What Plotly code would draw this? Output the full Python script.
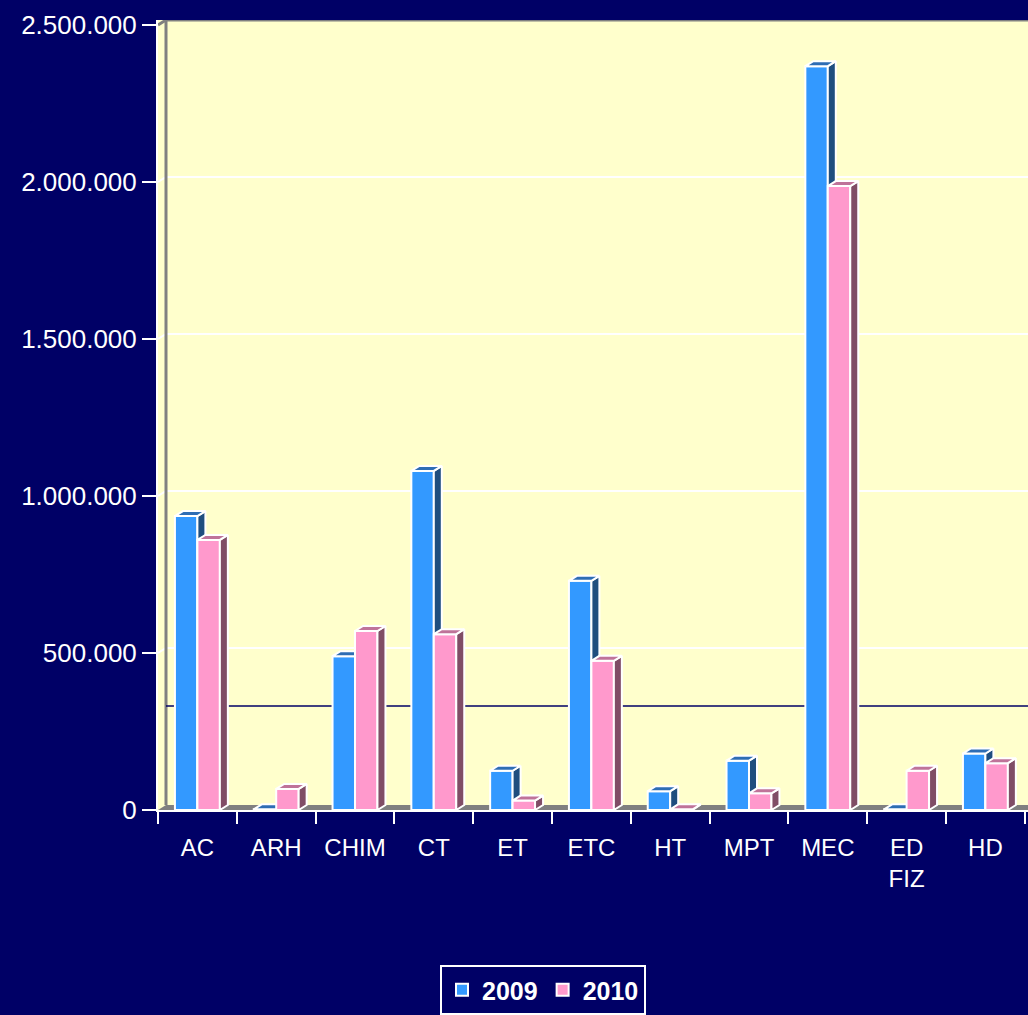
import plotly.graph_objects as go

# ---------------- data ----------------
categories = ["AC", "ARH", "CHIM", "CT", "ET", "ETC", "HT", "MPT", "MEC", "ED<br>FIZ", "HD"]
series_names = ["2009", "2010"]
values_2009 = [936000, 2000, 490000, 1080000, 125000, 730000, 60000, 157000, 2369000, 2000, 180000]
values_2010 = [860000, 67000, 570000, 560000, 30000, 475000, 2000, 53000, 1987000, 125000, 149000]
y_tick_values = [0, 500000, 1000000, 1500000, 2000000, 2500000]
reference_value = 315000

# ---------------- styling / geometry ----------------
FONT = "Liberation Sans, Arial, sans-serif"
BG = "#000066"
WALL = "#FFFFCC"
FLOOR = "#808080"
front_colors = ["#3399FF", "#FF99CC"]
side_colors = ["#1F4E7F", "#804D66"]
top_colors = ["#2E6DB4", "#BF7399"]

W, H = 1028, 1015
ML, MR, MT, MB = 158, 0, 20, 205
plot_w = W - ML - MR
plot_h = H - MT - MB
cat_px = 78.8                      # pixels per category
px_per_val = 785 / 2500000.0       # pixels per unit value (front plane)
x_lo = -0.5
x_hi = x_lo + plot_w / cat_px
y_hi = plot_h / px_per_val
DX = 8 / cat_px                    # 3-D depth in data units
DY = 5 / px_per_val
BW = 0.285                         # bar width in category units

n = len(categories)
fig = go.Figure()

# floor
fig.add_trace(go.Scatter(
    x=[x_lo, x_lo + DX, x_hi, x_hi, x_lo], y=[0, DY, DY, 0, 0],
    fill="toself", fillcolor=FLOOR, line=dict(width=0), mode="lines",
    showlegend=False, hoverinfo="skip"))

# back-wall gridlines (white) with diagonal joins to the axis
gx, gy = [], []
for t in y_tick_values[1:-1]:
    gx += [x_lo, x_lo + DX, x_hi, None]
    gy += [t, t + DY, t + DY, None]
fig.add_trace(go.Scatter(x=gx, y=gy, mode="lines", line=dict(color="white", width=2),
                         showlegend=False, hoverinfo="skip"))

# back-wall borders (grey)
top_t = y_tick_values[-1]
fig.add_trace(go.Scatter(
    x=[x_lo + DX, x_lo + DX, x_hi, None, x_lo, x_lo + DX],
    y=[DY, top_t + DY, top_t + DY, None, top_t, top_t + DY],
    mode="lines", line=dict(color=FLOOR, width=3), showlegend=False, hoverinfo="skip"))

# reference line on the back wall
fig.add_trace(go.Scatter(
    x=[x_lo + DX, x_hi], y=[reference_value + DY, reference_value + DY],
    mode="lines", line=dict(color=BG, width=1.5), showlegend=False, hoverinfo="skip"))

# 3-D bars
all_values = [values_2009, values_2010]
for s, vals in enumerate(all_values):
    fx, fy, sx, sy, tx, ty = [], [], [], [], [], []
    for i, v in enumerate(vals):
        xl = i - BW + s * BW
        xr = xl + BW
        fx += [xl, xl, xr, xr, xl, None]
        fy += [0, v, v, 0, 0, None]
        sx += [xr, xr + DX, xr + DX, xr, xr, None]
        sy += [0, DY, v + DY, v, 0, None]
        tx += [xl, xl + DX, xr + DX, xr, xl, None]
        ty += [v, v + DY, v + DY, v, v, None]
    fig.add_trace(go.Scatter(x=fx, y=fy, fill="toself", fillcolor=front_colors[s],
                             mode="lines", line=dict(color="white", width=2),
                             showlegend=False, name=series_names[s]))
    fig.add_trace(go.Scatter(x=sx, y=sy, fill="toself", fillcolor=side_colors[s],
                             mode="lines", line=dict(color="white", width=2),
                             showlegend=False, hoverinfo="skip"))
    fig.add_trace(go.Scatter(x=tx, y=ty, fill="toself", fillcolor=top_colors[s],
                             mode="lines", line=dict(color="white", width=2),
                             showlegend=False, hoverinfo="skip"))

# legend proxies
for s, name in enumerate(series_names):
    fig.add_trace(go.Bar(x=[None], y=[None], name=name,
                         marker=dict(color=front_colors[s], line=dict(color="white", width=2))))

fig.update_layout(
    width=W, height=H,
    margin=dict(l=ML, r=MR, t=MT, b=MB, pad=0),
    paper_bgcolor=BG, plot_bgcolor=WALL,
    separators=",.",
    font=dict(family=FONT, color="white", size=24),
    showlegend=True,
    legend=dict(
        orientation="h", x=(543 - ML) / plot_w, xanchor="center",
        y=(810 - 965) / plot_h, yanchor="top",
        bgcolor="rgba(0,0,0,0)", bordercolor="white", borderwidth=2,
        font=dict(family=FONT, size=25, color="white", weight="bold"),
        itemclick=False, itemdoubleclick=False,
    ),
    xaxis=dict(
        range=[x_lo, x_hi], showgrid=False, zeroline=False,
        tickmode="array", tickvals=list(range(n)), ticktext=categories,
        ticks="outside", ticklen=15, tickcolor="rgba(0,0,0,0)",
        tickfont=dict(family=FONT, size=24, color="white"),
        showline=True, linecolor="white", linewidth=2,
        minor=dict(tickmode="array", tickvals=[i - 0.5 for i in range(n + 1)],
                   ticks="outside", ticklen=12, tickwidth=2, tickcolor="white", showgrid=False),
        fixedrange=True,
    ),
    yaxis=dict(
        range=[0, y_hi], showgrid=False, zeroline=False,
        tickmode="array", tickvals=y_tick_values, tickformat=",d",
        ticks="outside", ticklen=14, tickwidth=2, tickcolor="white",
        tickfont=dict(family=FONT, size=26, color="white"),
        showline=True, linecolor="white", linewidth=2,
        fixedrange=True,
    ),
)

fig.write_html(
    "out.html",
    config={"displayModeBar": False},
    post_script="document.body.style.margin='0';document.body.style.background='#000066';",
)
